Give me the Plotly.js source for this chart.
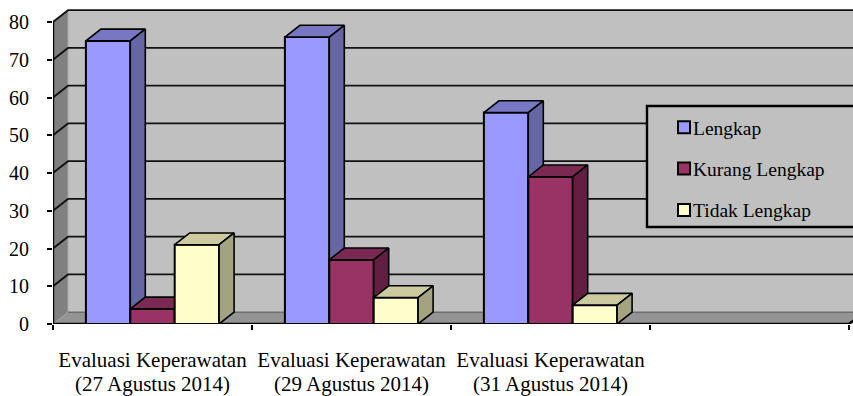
<!DOCTYPE html>
<html>
<head>
<meta charset="utf-8">
<script src="https://cdn.plot.ly/plotly-3.0.1.min.js"></script>
<style>html,body{margin:0;padding:0;background:#fff;overflow:hidden}</style>
</head>
<body>
<div id="chart" style="width:853px;height:396px"></div>
<script>
// Dokumentasi keperawatan: kelengkapan evaluasi per tanggal
const dateLine1 = ['Evaluasi Keperawatan', 'Evaluasi Keperawatan', 'Evaluasi Keperawatan'];
const dateLine2 = ['(27 Agustus 2014)', '(29 Agustus 2014)', '(31 Agustus 2014)'];
const lengkap = [75, 76, 56];
const kurangLengkap = [4, 17, 39];
const tidakLengkap = [21, 7, 5];
const yTicks = [0, 10, 20, 30, 40, 50, 60, 70, 80];
const xTicks = [0, 1, 2, 3, 4];

// Scale and box depth of the pseudo-3D drawing, in axis units
const X_RANGE = [0, 800 / 199];
const Y_RANGE = [0, 316 / 3.775];
const DX = 15 / 199;
const DY = 11.8 / 3.775;
const BAR_W = 44.4 / 199;
const FONT = 'Liberation Serif, Times New Roman, serif';

function polygons(list) {
  const x = [], y = [];
  list.forEach(p => {
    p.forEach(c => { x.push(c[0]); y.push(c[1]); });
    x.push(p[0][0]); y.push(p[0][1]);
    x.push(null); y.push(null);
  });
  return {x, y};
}

function face(list, fill, axes, line) {
  const p = polygons(list);
  return {
    type: 'scatter', mode: 'lines', x: p.x, y: p.y, fill: 'toself', fillcolor: fill,
    line: line || {color: '#000', width: 1.6}, hoverinfo: 'skip', showlegend: false,
    xaxis: axes[0], yaxis: axes[1]
  };
}

function path(x, y, color, width) {
  return {
    type: 'scatter', mode: 'lines', x, y, line: {color, width},
    hoverinfo: 'skip', showlegend: false, cliponaxis: false
  };
}

// One series: front faces through a bar trace, top and side faces as filled polygons
function series(name, values, slot, colors, axes) {
  const left = values.map((_, i) => i + 0.5 + (slot - 1.5) * BAR_W);
  const centre = left.map(l => l + BAR_W / 2);
  const bar = {
    type: 'bar', name, x: centre, y: values, width: BAR_W,
    marker: {color: colors[0], line: {color: '#000', width: 2}},
    legendgroup: name, hoverinfo: 'skip', xaxis: axes[0], yaxis: axes[1]
  };
  const tops = values.map((v, i) => [
    [left[i], v], [left[i] + BAR_W, v], [left[i] + BAR_W + DX, v + DY], [left[i] + DX, v + DY]
  ]);
  const sides = values.map((v, i) => [
    [left[i] + BAR_W, 0], [left[i] + BAR_W + DX, DY], [left[i] + BAR_W + DX, v + DY], [left[i] + BAR_W, v]
  ]);
  return [bar, face(tops, colors[1], axes), face(sides, colors[2], axes)];
}

const xEnd = xTicks[xTicks.length - 1];
const yTop = yTicks[yTicks.length - 1];
const right = X_RANGE[1] + DX;

// Walls, floor and gridlines sit on the base subplot, under all series
const walls = [
  face([[[DX, DY], [right, DY], [right, yTop + DY], [DX, yTop + DY]]], '#c0c0c0', ['x', 'y'], {width: 0}),
  face([[[0, 0], [DX, DY], [DX, yTop + DY], [0, yTop]]], '#808080', ['x', 'y'], {width: 0}),
  face([[[0, 0], [DX, DY], [xEnd + DX, DY], [xEnd, 0]]], '#949494', ['x', 'y'], {width: 0})
];
const gridX = [], gridY = [];
yTicks.slice(1).forEach(v => {
  gridX.push(0, DX, right, null);
  gridY.push(v, v + DY, v + DY, null);
});
const grid = path(gridX, gridY, '#111', 1.8);
const base = path([DX, right], [DY, DY], '#6e6e6e', 1.5);
const sideEdge = path([DX, DX], [DY, yTop + DY], '#a8a8a8', 1);
const yLine = path([0, 0], [0, yTop], '#000', 2.4);
const xLine = path([0, xEnd, xEnd + DX], [0, 0, DY], '#000', 2.4);

const data = [
  ...walls, sideEdge, base, grid, yLine, xLine,
  ...series('Lengkap', lengkap, 0, ['#9999ff', '#7777c4', '#6666a3'], ['x2', 'y2']),
  ...series('Kurang Lengkap', kurangLengkap, 1, ['#993366', '#7a2a52', '#621f42'], ['x3', 'y3']),
  ...series('Tidak Lengkap', tidakLengkap, 2, ['#ffffcc', '#cbcb9f', '#a3a382'], ['x4', 'y4'])
];

const overlayX = (extra) => Object.assign({
  overlaying: 'x', range: X_RANGE, fixedrange: true, showgrid: false, zeroline: false,
  showline: false, ticks: ''
}, extra);
const overlayY = () => ({
  overlaying: 'y', range: Y_RANGE, fixedrange: true, visible: false
});
const labelCentres = dateLine1.map((_, i) => i + 0.5);

const layout = {
  width: 853, height: 396, autosize: false,
  margin: {l: 53, r: 0, t: 8, b: 72, pad: 0},
  paper_bgcolor: '#fff', plot_bgcolor: '#fff',
  font: {family: FONT, color: '#000', size: 17},
  bargap: 0,
  xaxis: {
    range: X_RANGE, tickmode: 'array', tickvals: xTicks, ticktext: xTicks.map(() => ''),
    ticks: 'outside', ticklen: 5, tickwidth: 2, tickcolor: '#000',
    showgrid: false, zeroline: false, showline: false, fixedrange: true
  },
  yaxis: {
    range: Y_RANGE, tickmode: 'array', tickvals: yTicks, ticks: 'outside', ticklen: 5, tickwidth: 2,
    tickcolor: '#000', ticklabelstandoff: 14, tickfont: {family: FONT, size: 20, color: '#000'},
    showgrid: false, zeroline: false, showline: false, fixedrange: true
  },
  xaxis2: overlayX({tickmode: 'array', tickvals: labelCentres, ticktext: dateLine1,
    tickfont: {family: FONT, size: 21, color: '#000'}, ticklabelstandoff: 21}),
  xaxis3: overlayX({tickmode: 'array', tickvals: labelCentres, ticktext: dateLine2,
    tickfont: {family: FONT, size: 21, color: '#000'}, ticklabelstandoff: 45}),
  xaxis4: overlayX({showticklabels: false}),
  yaxis2: overlayY(), yaxis3: overlayY(), yaxis4: overlayY(),
  shapes: [{
    type: 'rect', xref: 'paper', yref: 'paper', layer: 'above',
    x0: 594 / 800, x1: 1.03, y0: 97 / 316, y1: 218 / 316,
    fillcolor: '#c0c0c0', line: {color: '#000', width: 2.4}
  }],
  showlegend: true,
  legend: {
    x: 611 / 800, y: 216 / 316, xanchor: 'left', yanchor: 'top',
    bgcolor: 'rgba(0,0,0,0)', borderwidth: 0, traceorder: 'grouped',
    tracegroupgap: 13, font: {family: FONT, size: 19.5, color: '#000'}
  }
};

// Pull the legend names close to their colour swatches
Plotly.newPlot('chart', data, layout, {staticPlot: true, displayModeBar: false}).then(() => {
  document.querySelectorAll('#chart .legend .legendtext').forEach(t => {
    t.setAttribute('x', parseFloat(t.getAttribute('x')) - 11);
  });
});
</script>
</body>
</html>
